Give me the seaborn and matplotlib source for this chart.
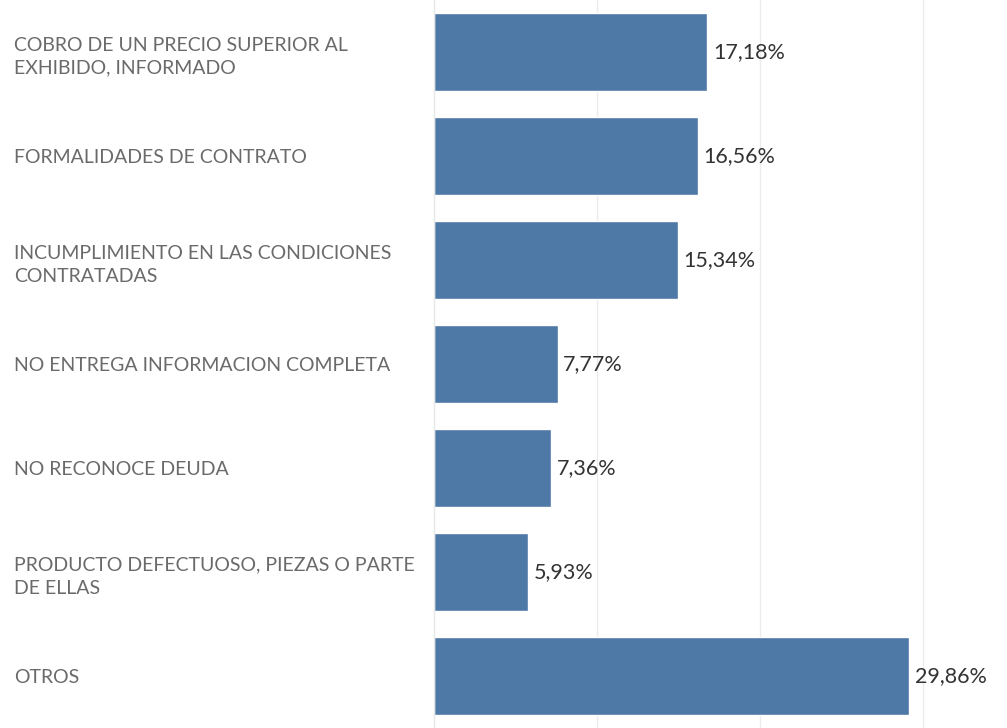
import matplotlib
matplotlib.use("Agg")
import matplotlib.pyplot as plt
import seaborn as sns
import pandas as pd

categories = [
    "COBRO DE UN PRECIO SUPERIOR AL\nEXHIBIDO, INFORMADO",
    "FORMALIDADES DE CONTRATO",
    "INCUMPLIMIENTO EN LAS CONDICIONES\nCONTRATADAS",
    "NO ENTREGA INFORMACION COMPLETA",
    "NO RECONOCE DEUDA",
    "PRODUCTO DEFECTUOSO, PIEZAS O PARTE\nDE ELLAS",
    "OTROS",
]
values = [17.18, 16.56, 15.34, 7.77, 7.36, 5.93, 29.86]
value_labels = ["17,18%", "16,56%", "15,34%", "7,77%", "7,36%", "5,93%", "29,86%"]

df = pd.DataFrame({"cat": categories, "val": values})

sns.set_style("white")
plt.rcParams["font.family"] = ["Lato", "DejaVu Sans"]

W, H = 1007, 728
fig = plt.figure(figsize=(W / 100, H / 100), dpi=100)
ax = fig.add_axes([434 / W, 0, (W - 434) / W, 1])

sns.barplot(data=df, y="cat", x="val", orient="h", color="#4e78a5",
            saturation=1, width=0.75, ax=ax)

ax.set_xlim(0, 36.0)
ax.set_ylim(6.5, -0.5)
grid_step = 163 / 15.91
ax.set_xticks([grid_step, 2 * grid_step, 3 * grid_step])
ax.set_xticklabels([])
ax.grid(axis="x", color="#ececec", linewidth=1)
ax.set_axisbelow(True)
ax.tick_params(axis="x", length=0)
for s in ["top", "right", "bottom"]:
    ax.spines[s].set_visible(False)
ax.spines["left"].set_color("#e6e6e6")
ax.spines["left"].set_linewidth(1)

ax.set_yticks(range(len(categories)))
ax.set_yticklabels(categories, ha="left", fontsize=14, color="#6a6a6a",
                   linespacing=1.45)
ax.tick_params(axis="y", length=0, pad=(434 - 14) * 72 / 100)
ax.set_xlabel("")
ax.set_ylabel("")

for i, (v, lab) in enumerate(zip(values, value_labels)):
    ax.text(v + 0.35, i, lab, va="center", ha="left", fontsize=15.5,
            color="#333333")

fig.savefig("out.png", dpi=100)
